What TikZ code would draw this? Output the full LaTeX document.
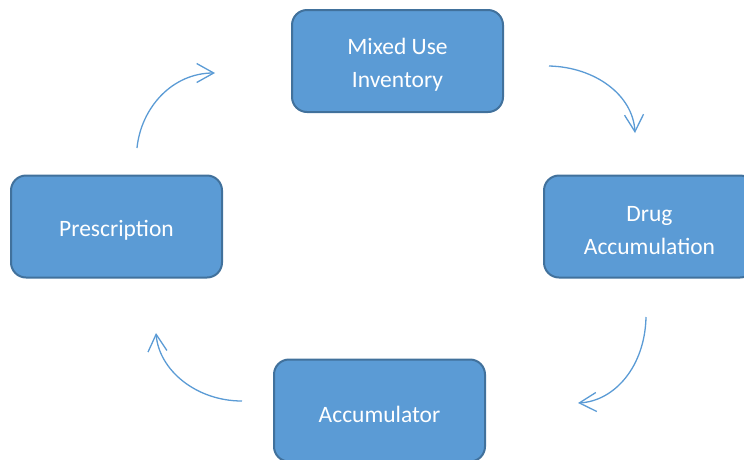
\documentclass[tikz,border=0pt]{standalone}
\usepackage{fontspec}
\setmainfont{Carlito}
\usetikzlibrary{arrows.meta}

\definecolor{boxfill}{HTML}{5B9BD5}
\definecolor{boxline}{HTML}{41719C}

\tikzset{
  stepbox/.style={draw=boxline, line width=2pt, fill=boxfill, rounded corners=15pt,
    minimum width=211pt, minimum height=102pt},
  boxtext/.style={align=center, text=white, yshift=-4pt,
    font=\fontsize{23.5}{33}\selectfont},
  cycle arrow/.style={draw=boxfill, line width=1.3pt,
    -{Straight Barb[length=17pt,width=19pt]}}
}

\begin{document}
\begin{tikzpicture}[x=1pt,y=-1pt]
  \useasboundingbox (0,0) rectangle (744,459);
  \clip (0,0) rectangle (744,459);

  \node[stepbox, label={[boxtext]center:{Mixed Use\\Inventory}}] (inventory) at (397.5,61) {};
  \node[stepbox, label={[boxtext]center:{Drug\\Accumulation}}] (drug) at (649.5,226.5) {};
  \node[stepbox, label={[boxtext]center:Accumulator}] (accumulator) at (379.5,410.5) {};
  \node[stepbox, label={[boxtext]center:Prescription}] (prescription) at (116.5,226.5) {};

  % Pfeile
  \coordinate (a1) at (137,148);  \coordinate (b1) at (215,73);
  \coordinate (a2) at (549,66);   \coordinate (b2) at (635,133);
  \coordinate (a3) at (646,317);  \coordinate (b3) at (578,403);
  \coordinate (a4) at (242,401);  \coordinate (b4) at (156,333);

  \draw[cycle arrow] (a1) .. controls (141,108) and (172,73) .. (b1);
  \draw[cycle arrow] (a2) .. controls (595,67) and (633,95) .. (b2);
  \draw[cycle arrow] (a3) .. controls (645,366) and (615,401) .. (b3);
  \draw[cycle arrow] (a4) .. controls (196,401) and (159,370) .. (b4);
\end{tikzpicture}
\end{document}
